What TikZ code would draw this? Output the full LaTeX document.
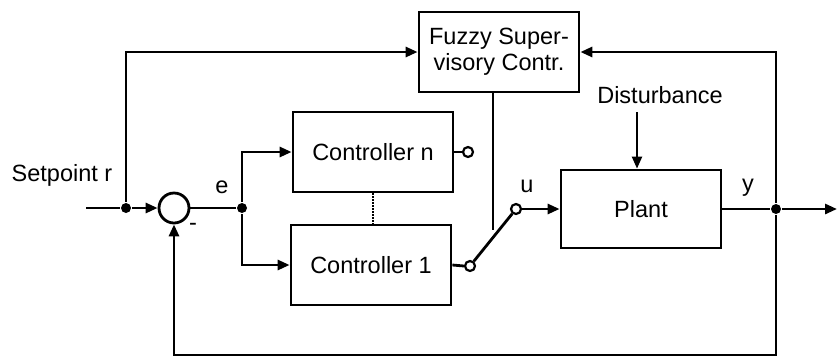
\documentclass[tikz,border=0pt]{standalone}
\usepackage{fontspec}
\setmainfont{Liberation Sans}
\usepackage{tikz}
\usetikzlibrary{arrows.meta}

\tikzset{
  blk/.style={draw, line width=2.8pt, minimum width=160pt, minimum height=80pt, align=center},
  arr/.style={-{Triangle[length=12pt,width=10pt]}},
  dot/.style={circle, fill=black, inner sep=0pt, minimum size=10pt},
  swc/.style={circle, draw, fill=white, line width=2.2pt, inner sep=0pt, minimum size=10pt},
  lbl/.style={inner sep=0pt}
}

\begin{document}
\begin{tikzpicture}[x=1pt, y=-1pt, line width=2.8pt, font=\fontsize{23.5}{26}\selectfont]
\useasboundingbox (0,0) rectangle (837,360);

% Bloques
\node[blk] (fuzzy) at (499,52) {Fuzzy Super-\\visory Contr.};
\node[blk, minimum width=160pt, minimum height=78pt] (plant) at (641,209) {Plant};
\node[blk] (ctrln) at (373,152) {Controller n};
\node[blk] (ctrl1) at (371,265) {Controller 1};

% Sumador
\node[circle, draw, line width=2.8pt, minimum size=30pt, inner sep=0pt] (sum) at (174,208) {};

% Nodos de ramificacion
\node[dot] (jr) at (126,208) {};
\node[dot] (je) at (242,208) {};
\node[dot] (jy) at (776,209) {};

% Interruptor
\node[swc] (swn) at (468,152) {};
\node[swc] (sw1) at (470,266) {};
\node[swc] (swu) at (516,209) {};

\coordinate (in) at (86,208);
\coordinate (out) at (837,209);
\coordinate (fz) at (493,230);
\coordinate (dtop) at (637,112);

% Textos
\node[lbl] (setp) at (62,175) {Setpoint r};
\node[lbl] (le) at (222,187) {e};
\node[lbl] (lm) at (193,227) {-};
\node[lbl] (lu) at (527,186) {u};
\node[lbl] (ly) at (748,188) {y};
\node[lbl] (dist) at (660,95) {Disturbance};

% Lineas
\draw (in) -- (jr);
\draw[arr] (jr) -- (sum.west);
\draw (sum.east) -- (je);
\draw[arr] (je) |- (ctrln.west);
\draw[arr] (je) |- (ctrl1.west);
\draw (ctrln.east) -- (swn.west);
\draw (ctrl1.east) -- (sw1.west);
\draw (sw1) -- (swu);
\draw[arr] (swu.east) -- (plant.west);
\draw (plant.east) -- (jy);
\draw[arr] (jy) -- (out);
\draw[arr] (jr) |- (fuzzy.west);
\draw[arr] (jy) |- (fuzzy.east);
\draw (fuzzy.south -| fz) -- (fz);
\draw[arr] (jy) -- (776,355) -| (sum.south);
\draw[arr, line width=2.2pt] (dtop) -- (dtop |- plant.north);
\draw[densely dotted, line width=2pt] (ctrln.south -| 373,0) -- ([yshift=-1pt]ctrl1.north -| 373,0);

\end{tikzpicture}
\end{document}
